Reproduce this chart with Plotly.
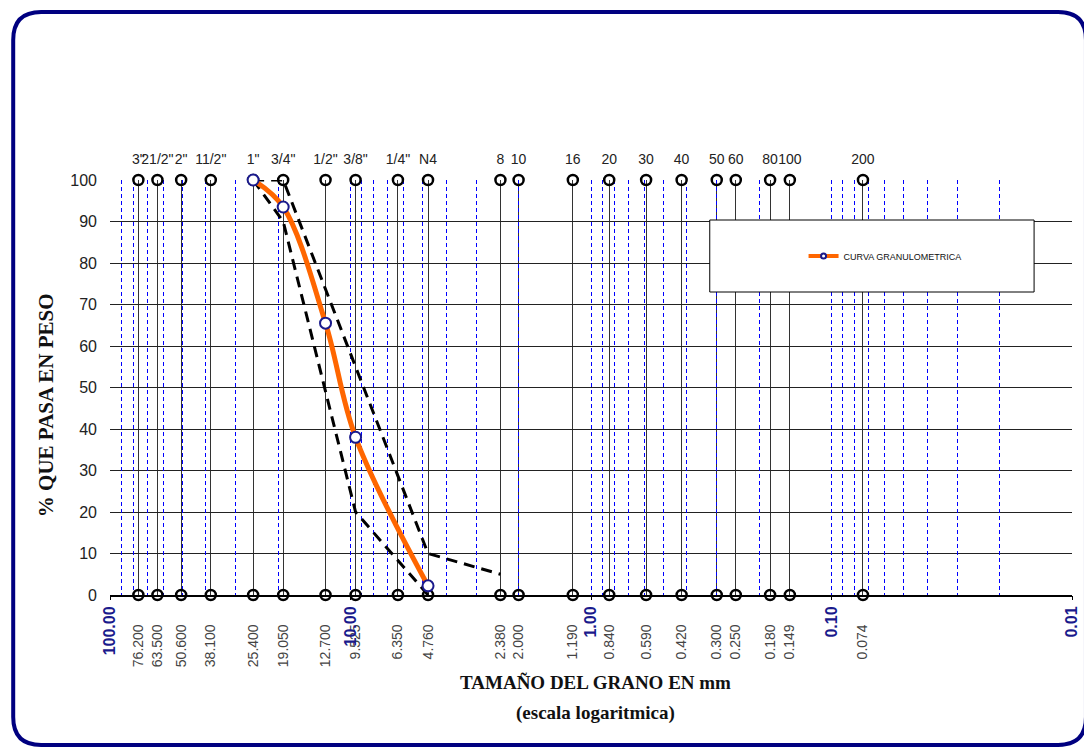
import plotly.graph_objects as go
import math

# ---------------- data ----------------
sieve_mm = [76.2, 63.5, 50.6, 38.1, 25.4, 19.05, 12.7, 9.525, 6.35, 4.76,
            2.38, 2.0, 1.19, 0.84, 0.59, 0.42, 0.30, 0.25, 0.18, 0.149, 0.074]
sieve_names = ['3"', '21/2"', '2"', '11/2"', '1"', '3/4"', '1/2"', '3/8"', '1/4"', 'N4',
               '8', '10', '16', '20', '30', '40', '50', '60', '80', '100', '200']

curve_x = [25.4, 19.05, 12.7, 9.525, 4.76]
curve_y = [100, 93.5, 65.5, 38.0, 2.2]

upper_x = [25.4, 19.05, 9.525, 4.76, 2.38]
upper_y = [100, 100, 55, 10, 5]
lower_x = [25.4, 19.05, 9.525, 4.76]
lower_y = [100, 90, 20, 0]

decades = [100, 10, 1, 0.1, 0.01]
decade_labels = ["100.00", "10.00", "1.00", "0.10", "0.01"]
y_ticks = list(range(0, 101, 10))

# ---------------- layout geometry (page pixels; page has 8px body margin) ----------------
OFF = 8
W, H = 1092 - OFF, 749 - OFF
PL, PR, PT, PB = 110, 1074, 180, 595          # plot area in page pixels
ML, MR, MT = PL - OFF, W - (PR - OFF), PT - OFF
MB = H - (PB - OFF)
PW, PH = PR - PL, PB - PT

def px2paper(px, py):
    return (px - PL) / PW, (PB - py) / PH

minor_vals = []
for e in range(-2, 2):
    for k in range(2, 10):
        minor_vals.append(k * 10 ** e)

xr = [math.log10(decades[0]), math.log10(decades[-1])]

NAVY = "#1a1a8c"
BLUE = "#0000ff"
fig = go.Figure()

# sieve markers top and bottom
for yy in (100, 0):
    fig.add_trace(go.Scatter(x=sieve_mm, y=[yy] * len(sieve_mm), mode="markers",
                             marker=dict(symbol="circle-open", size=10, color="black",
                                         line=dict(width=2.5)),
                             cliponaxis=False, showlegend=False, hoverinfo="skip"))

# limits
for lx, ly in ((upper_x, upper_y), (lower_x, lower_y)):
    fig.add_trace(go.Scatter(x=lx, y=ly, mode="lines",
                             line=dict(color="black", width=3, dash="11px,7px"),
                             cliponaxis=False, showlegend=False, hoverinfo="skip"))

# curve
fig.add_trace(go.Scatter(x=curve_x, y=curve_y, mode="lines+markers",
                         name="CURVA GRANULOMETRICA", showlegend=False,
                         line=dict(color="#FF6600", width=5, shape="spline", smoothing=1.0),
                         marker=dict(size=11, color="white", line=dict(color=NAVY, width=2)),
                         cliponaxis=False))
# legend entry
fig.add_trace(go.Scatter(x=[None], y=[None], mode="lines+markers",
                         name="CURVA GRANULOMETRICA",
                         line=dict(color="#FF6600", width=4),
                         marker=dict(size=5, color="white", line=dict(color=NAVY, width=2))))

# dummy traces on overlay axes
for ax in ["x2", "x3", "x4"]:
    fig.add_trace(go.Scatter(x=[10], y=[50], xaxis=ax, mode="markers",
                             marker=dict(opacity=0), showlegend=False, hoverinfo="skip"))

common = dict(type="log", range=xr, zeroline=False, fixedrange=True)

fig.update_layout(
    width=W, height=H,
    margin=dict(l=ML, r=MR, t=MT, b=MB),
    paper_bgcolor="white", plot_bgcolor="white",
    font=dict(family="Liberation Sans, Arial, sans-serif", color="#222"),
    xaxis=dict(**common, tickmode="array", tickvals=sieve_mm,
               ticktext=[f"{v:.3f}" for v in sieve_mm],
               tickangle=-90, tickfont=dict(size=14, color="#444"),
               ticklabelstandoff=22,
               showgrid=True, gridcolor="#333", gridwidth=1,
               showline=True, linecolor="black", linewidth=1.5, ticks=""),
    xaxis2=dict(**common, overlaying="x", anchor="y", side="bottom",
                tickmode="array", tickvals=decades,
                ticktext=[f"<b>{t}</b>" for t in decade_labels],
                tickangle=-90, tickfont=dict(size=16, color=NAVY),
                ticks="outside", ticklen=4, tickcolor="black",
                showgrid=True, gridcolor=BLUE, griddash="4px,3px", gridwidth=1),
    xaxis3=dict(**common, overlaying="x", anchor="y", side="bottom",
                tickmode="array", tickvals=minor_vals, showticklabels=False,
                showgrid=True, gridcolor=BLUE, griddash="4px,3px", gridwidth=1),
    xaxis4=dict(**common, overlaying="x", anchor="y", side="top",
                tickmode="array", tickvals=sieve_mm, ticktext=sieve_names,
                tickangle=0, tickfont=dict(size=14, color="#222"),
                ticklabelstandoff=12, showgrid=False, ticks=""),
    yaxis=dict(range=[0, 100], tickmode="array", tickvals=y_ticks,
               showgrid=True, gridcolor="#222", gridwidth=1.2, zeroline=False,
               tickfont=dict(size=16, color="#222"), ticks="", ticklabelstandoff=12,
               fixedrange=True),
    legend=dict(x=px2paper(805, 0)[0], y=px2paper(0, 256)[1], xanchor="left",
                yanchor="middle", bgcolor="rgba(0,0,0,0)", borderwidth=0,
                font=dict(size=9, color="#111")),
    showlegend=True,
)

# legend box
x0, y0 = px2paper(711, 292)
x1, y1 = px2paper(1036, 220)
fig.add_shape(type="rect", xref="paper", yref="paper", x0=x0, y0=y0, x1=x1, y1=y1,
              fillcolor="white", line=dict(color="black", width=1), layer="above")

# rounded frame
fl, ft, fr, fb, r = 13, 12, 1088, 745, 28
def P(px, py):
    a, b = px2paper(px, py)
    return f"{a:.5f},{b:.5f}"
path = (f"M {P(fl + r, ft)} L {P(fr - r, ft)} Q {P(fr, ft)} {P(fr, ft + r)} "
        f"L {P(fr, fb - r)} Q {P(fr, fb)} {P(fr - r, fb)} "
        f"L {P(fl + r, fb)} Q {P(fl, fb)} {P(fl, fb - r)} "
        f"L {P(fl, ft + r)} Q {P(fl, ft)} {P(fl + r, ft)} Z")
fig.add_shape(type="path", xref="paper", yref="paper", path=path,
              line=dict(color="#000080", width=4), layer="above")

# titles
SERIF = "Liberation Serif, Times New Roman, serif"
tx, ty = px2paper(597, 682)
fig.add_annotation(x=tx, y=ty, xref="paper", yref="paper", showarrow=False,
                   xanchor="center", yanchor="middle",
                   text="<b>TAMAÑO DEL GRANO EN mm</b>",
                   font=dict(family=SERIF, size=19, color="#111"))
tx, ty = px2paper(597, 713)
fig.add_annotation(x=tx, y=ty, xref="paper", yref="paper", showarrow=False,
                   xanchor="center", yanchor="middle",
                   text="<b>(escala logaritmica)</b>",
                   font=dict(family=SERIF, size=19, color="#111"))
tx, ty = px2paper(46, 405)
fig.add_annotation(x=tx, y=ty, xref="paper", yref="paper", showarrow=False,
                   xanchor="center", yanchor="middle",
                   text="<b>% QUE PASA EN PESO</b>", textangle=-90,
                   font=dict(family=SERIF, size=21, color="#111"))

fig.write_html("out.html")
